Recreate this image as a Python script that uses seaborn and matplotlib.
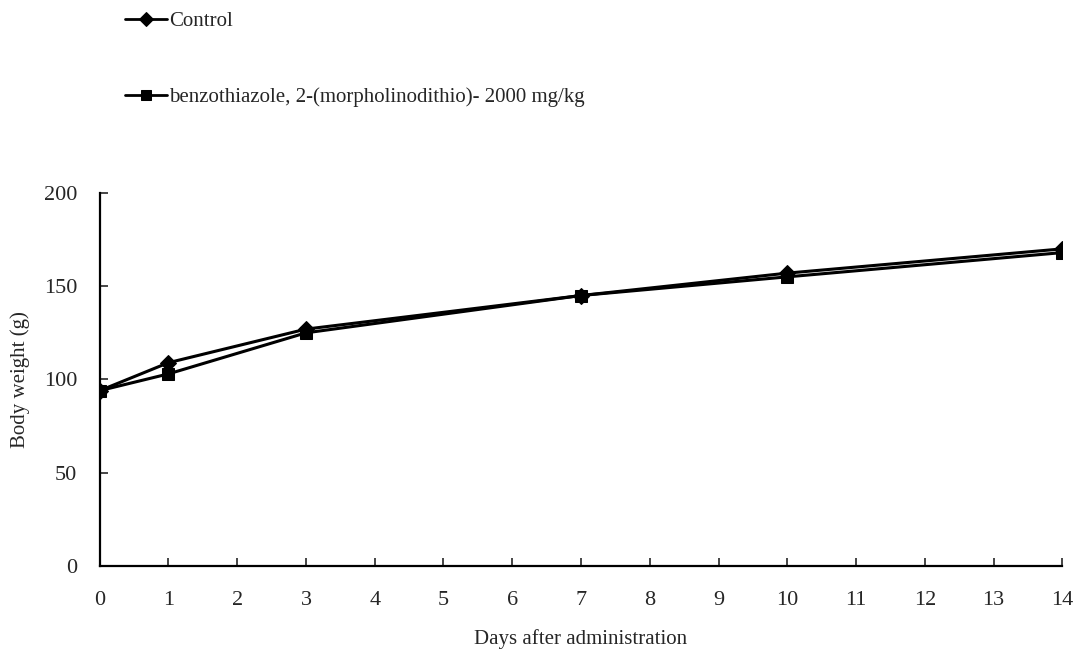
import pandas as pd
import numpy as np
import matplotlib
matplotlib.use("Agg")
import matplotlib.pyplot as plt
import seaborn as sns

days = [0, 1, 3, 7, 10, 14]
control = [94, 109, 127, 145, 157, 170]
treated = [94, 103, 125, 145, 155, 168]
labels = ["Control", "benzothiazole, 2-(morpholinodithio)- 2000 mg/kg"]
xticks = list(range(0, 15))
yticks = [0, 50, 100, 150, 200]

df = pd.concat([
    pd.DataFrame({"Day": days, "Weight": control, "Group": labels[0]}),
    pd.DataFrame({"Day": days, "Weight": treated, "Group": labels[1]}),
])

sns.set_style("ticks")
plt.rcParams["font.family"] = ["Liberation Serif", "DejaVu Serif"]

fig = plt.figure(figsize=(10.83, 6.56), dpi=100)
ax = fig.add_axes([0.092, 0.137, 0.889, 0.569])

sns.lineplot(data=df, x="Day", y="Weight", hue="Group", style="Group",
             markers={labels[0]: "D", labels[1]: "s"}, dashes=False,
             palette={labels[0]: "black", labels[1]: "black"},
             markersize=8, linewidth=2.2, markeredgecolor="black",
             ax=ax, legend=True)

ax.set_xlim(0, 14)
ax.set_ylim(0, 200)
ax.set_xticks(xticks)
ax.set_yticks(yticks)
ax.tick_params(axis="both", direction="in", length=6, width=1.2, labelsize=16, pad=18)
ax.tick_params(axis="y", pad=16)
ax.set_xlabel("Days after administration", fontsize=15, labelpad=14)
ax.set_ylabel("Body weight (g)", fontsize=15, labelpad=10)
for s in ["top", "right"]:
    ax.spines[s].set_visible(False)
for s in ["left", "bottom"]:
    ax.spines[s].set_linewidth(1.6)
    ax.spines[s].set_color("black")

handles, lbls = ax.get_legend_handles_labels()
ax.get_legend().remove()
leg = fig.legend(handles, lbls, loc="upper left", bbox_to_anchor=(0.108, 0.995),
                 frameon=False, fontsize=15, handlelength=2.0, labelspacing=2.7,
                 handletextpad=0.1, borderaxespad=0)
for h in leg.legend_handles:
    h.set_markersize(7)
    h.set_linewidth(2)

fig.savefig("out.png", dpi=100)
